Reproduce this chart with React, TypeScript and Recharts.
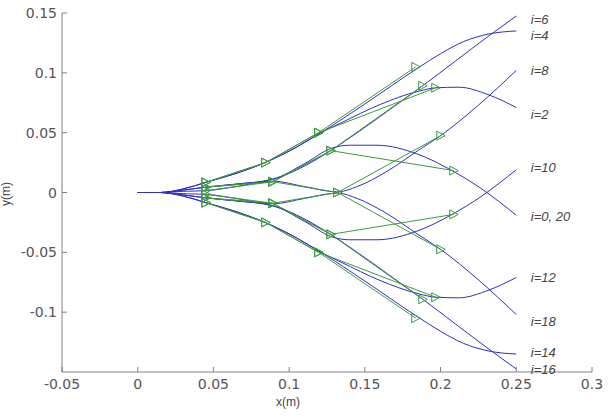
import { LineChart, Line, XAxis, YAxis, ReferenceDot } from "recharts";

const xTicks = [-0.05, 0, 0.05, 0.1, 0.15, 0.2, 0.25, 0.3];
const yTicks = [-0.1, -0.05, 0, 0.05, 0.1, 0.15];

// blue trajectories, [x, y] in metres
const blueI4 = [[0, 0], [0.015, 0], [0.03, 0.003], [0.045, 0.0085], [0.065, 0.016], [0.085, 0.0255], [0.105, 0.038], [0.121, 0.05], [0.15, 0.074], [0.185, 0.104], [0.2, 0.116], [0.215, 0.126], [0.232, 0.1325], [0.25, 0.135]];
const blueI2 = [[0, 0], [0.015, 0], [0.03, 0.003], [0.045, 0.0085], [0.065, 0.016], [0.085, 0.0255], [0.105, 0.038], [0.121, 0.05], [0.134, 0.058], [0.16, 0.0735], [0.185, 0.0845], [0.197, 0.0875], [0.212, 0.088], [0.232, 0.0815], [0.25, 0.071]];
const blueI6 = [[0, 0], [0.015, 0], [0.03, 0.002], [0.045, 0.0045], [0.065, 0.007], [0.089, 0.011], [0.11, 0.022], [0.128, 0.0355], [0.145, 0.05], [0.165, 0.068], [0.188, 0.089], [0.21, 0.11], [0.232, 0.131], [0.25, 0.1475]];
const blueI0 = [[0, 0], [0.015, 0], [0.03, 0.002], [0.045, 0.0045], [0.065, 0.007], [0.089, 0.011], [0.11, 0.024], [0.128, 0.037], [0.14, 0.0395], [0.158, 0.0395], [0.185, 0.032], [0.208, 0.018], [0.226, 0.004], [0.25, -0.019]];
const blueI8 = [[0, 0], [0.015, 0], [0.03, 0.001], [0.045, 0.0015], [0.065, 0.005], [0.089, 0.0095], [0.11, 0.005], [0.132, 0.0005], [0.145, 0.005], [0.165, 0.018], [0.185, 0.035], [0.2, 0.0475], [0.225, 0.073], [0.25, 0.102]];
const blueI14 = [[0, 0], [0.015, 0], [0.03, -0.003], [0.045, -0.0085], [0.065, -0.016], [0.085, -0.0255], [0.105, -0.038], [0.121, -0.05], [0.15, -0.074], [0.185, -0.104], [0.2, -0.116], [0.215, -0.126], [0.232, -0.1325], [0.25, -0.135]];
const blueI12 = [[0, 0], [0.015, 0], [0.03, -0.003], [0.045, -0.0085], [0.065, -0.016], [0.085, -0.0255], [0.105, -0.038], [0.121, -0.05], [0.134, -0.058], [0.16, -0.0735], [0.185, -0.0845], [0.197, -0.0875], [0.212, -0.088], [0.232, -0.0815], [0.25, -0.071]];
const blueI16 = [[0, 0], [0.015, 0], [0.03, -0.002], [0.045, -0.0045], [0.065, -0.007], [0.089, -0.011], [0.11, -0.022], [0.128, -0.0355], [0.145, -0.05], [0.165, -0.068], [0.188, -0.089], [0.21, -0.11], [0.232, -0.131], [0.25, -0.1475]];
const blueI10 = [[0, 0], [0.015, 0], [0.03, -0.002], [0.045, -0.0045], [0.065, -0.007], [0.089, -0.011], [0.11, -0.024], [0.128, -0.037], [0.14, -0.0395], [0.158, -0.0395], [0.185, -0.032], [0.208, -0.018], [0.226, -0.004], [0.25, 0.019]];
const blueI18 = [[0, 0], [0.015, 0], [0.03, -0.001], [0.045, -0.0015], [0.065, -0.005], [0.089, -0.0095], [0.11, -0.005], [0.132, -0.0005], [0.145, -0.005], [0.165, -0.018], [0.185, -0.035], [0.2, -0.0475], [0.225, -0.073], [0.25, -0.102]];

// green waypoint polylines (triangle markers)
const greenI4 = [[0.045, 0.0085], [0.0845, 0.025], [0.1195, 0.05], [0.1836, 0.105]];
const greenI2 = [[0.045, 0.0085], [0.0845, 0.025], [0.1195, 0.05], [0.1968, 0.0875]];
const greenI6 = [[0.045, 0.0045], [0.0892, 0.009], [0.1275, 0.035], [0.1882, 0.0892]];
const greenI0 = [[0.045, 0.0045], [0.0892, 0.009], [0.1275, 0.035], [0.2087, 0.0183]];
const greenI8 = [[0.045, 0.0015], [0.0892, 0.009], [0.132, 0], [0.2001, 0.0475]];
const greenI14 = [[0.045, -0.0085], [0.0845, -0.025], [0.1195, -0.05], [0.1836, -0.105]];
const greenI12 = [[0.045, -0.0085], [0.0845, -0.025], [0.1195, -0.05], [0.1968, -0.0875]];
const greenI16 = [[0.045, -0.0045], [0.0892, -0.009], [0.1275, -0.035], [0.1882, -0.0892]];
const greenI10 = [[0.045, -0.0045], [0.0892, -0.009], [0.1275, -0.035], [0.2087, -0.0183]];
const greenI18 = [[0.045, -0.0015], [0.0892, -0.009], [0.132, 0], [0.2001, -0.0475]];

const curveLabels = [
  { text: "i=6", x: 0.2596, y: 0.145 },
  { text: "i=4", x: 0.2596, y: 0.1317 },
  { text: "i=8", x: 0.2596, y: 0.1017 },
  { text: "i=2", x: 0.2596, y: 0.065 },
  { text: "i=10", x: 0.2596, y: 0.021 },
  { text: "i=0, 20", x: 0.2596, y: -0.02 },
  { text: "i=12", x: 0.2596, y: -0.0708 },
  { text: "i=18", x: 0.2596, y: -0.1075 },
  { text: "i=14", x: 0.2596, y: -0.1333 },
  { text: "i=16", x: 0.2596, y: -0.1475 },
];

const blueCurves = [blueI4, blueI2, blueI6, blueI0, blueI8, blueI14, blueI12, blueI16, blueI10, blueI18];
const greenCurves = [greenI4, greenI2, greenI6, greenI0, greenI8, greenI14, greenI12, greenI16, greenI10, greenI18];

const toPts = (arr: number[][]) => arr.map(([x, y]) => ({ x, y }));

const AXIS = "#808080";
const TXT = "#555";
const BLUE = "#2e2ec4";
const GREEN = "#3c9a3c";

const BottomTick = (p: any) => (
  <g>
    <line x1={p.x} y1={p.y} x2={p.x} y2={p.y - 5} stroke={AXIS} />
    <text x={p.x} y={p.y + 17} textAnchor="middle" fill={TXT} fontSize={14} fontFamily="DejaVu Sans">
      {String(p.payload.value)}
    </text>
  </g>
);
const TopTick = (p: any) => <line x1={p.x} y1={p.y} x2={p.x} y2={p.y + 5} stroke={AXIS} />;
const LeftTick = (p: any) => (
  <g>
    <line x1={p.x} y1={p.y} x2={p.x + 5} y2={p.y} stroke={AXIS} />
    <text x={p.x - 5} y={p.y + 5} textAnchor="end" fill={TXT} fontSize={14} fontFamily="DejaVu Sans">
      {String(p.payload.value)}
    </text>
  </g>
);
const RightTick = (p: any) => <line x1={p.x} y1={p.y} x2={p.x - 5} y2={p.y} stroke={AXIS} />;

const Triangle = (p: any) => {
  const { cx, cy } = p;
  if (cx == null || cy == null) return <g key={p.index} />;
  return (
    <path
      key={`t-${p.index}`}
      d={`M${cx - 4},${cy - 4.5} L${cx + 4.5},${cy} L${cx - 4},${cy + 4.5} Z`}
      fill="none"
      stroke={GREEN}
      strokeWidth={1}
    />
  );
};

export default function App() {
  return (
    <div style={{ position: "absolute", left: 0, top: 0, width: 608, height: 418, background: "#fff" }}>
      <LineChart width={608} height={418} margin={{ top: 13, right: 16, bottom: 0, left: 12 }}>
        <XAxis
          dataKey="x"
          type="number"
          domain={[-0.05, 0.3]}
          ticks={xTicks}
          interval={0}
          allowDataOverflow
          height={46}
          stroke={AXIS}
          tickLine={false}
          tickSize={0}
          tickMargin={0}
          tick={<BottomTick />}
          label={{
            content: () => (
              <text x={288} y={406} textAnchor="middle" fill="#444" fontSize={12} fontFamily="Liberation Sans">
                x(m)
              </text>
            ),
          }}
        />
        <XAxis
          xAxisId="top"
          orientation="top"
          type="number"
          domain={[-0.05, 0.3]}
          ticks={xTicks}
          interval={0}
          allowDataOverflow
          height={0}
          stroke={AXIS}
          tickLine={false}
          tickSize={0}
          tickMargin={0}
          tick={<TopTick />}
        />
        <YAxis
          type="number"
          domain={[-0.15, 0.15]}
          ticks={yTicks}
          interval={0}
          allowDataOverflow
          width={50}
          stroke={AXIS}
          tickLine={false}
          tickSize={0}
          tickMargin={0}
          tick={<LeftTick />}
          label={{
            content: () => (
              <text
                transform="translate(10,194) rotate(-90)"
                textAnchor="middle"
                fill="#444"
                fontSize={12}
                fontFamily="Liberation Sans"
              >
                y(m)
              </text>
            ),
          }}
        />
        <YAxis
          yAxisId="right"
          orientation="right"
          type="number"
          domain={[-0.15, 0.15]}
          ticks={yTicks}
          interval={0}
          allowDataOverflow
          width={0}
          stroke={AXIS}
          tickLine={false}
          tickSize={0}
          tickMargin={0}
          tick={<RightTick />}
        />
        {blueCurves.map((c, i) => (
          <Line
            key={`b${i}`}
            data={toPts(c)}
            dataKey="y"
            type="monotone"
            stroke={BLUE}
            strokeWidth={1}
            dot={false}
            isAnimationActive={false}
          />
        ))}
        {greenCurves.map((c, i) => (
          <Line
            key={`g${i}`}
            data={toPts(c)}
            dataKey="y"
            type="linear"
            stroke={GREEN}
            strokeWidth={1}
            dot={Triangle}
            isAnimationActive={false}
          />
        ))}
        {curveLabels.map((l) => (
          <ReferenceDot
            key={l.text}
            x={l.x}
            y={l.y}
            r={0}
            fill="none"
            stroke="none"
            label={{
              value: l.text,
              position: "right",
              offset: 0,
              fill: "#444",
              fontSize: 13,
              fontStyle: "italic",
              fontFamily: "Liberation Sans",
            }}
          />
        ))}
      </LineChart>
    </div>
  );
}
